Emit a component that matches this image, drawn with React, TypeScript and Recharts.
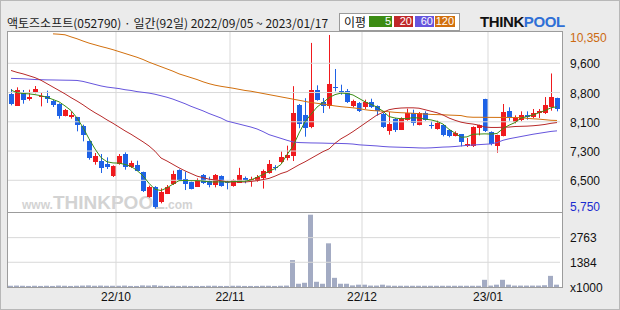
import { ComposedChart, Bar, Line, XAxis, YAxis, ReferenceLine } from "recharts";

const opens = [
  8786, 8477, 8813, 8654, 8839, 8707, 8724, 8610, 8521, 8212,
  8177, 8168, 7929, 7549, 7002, 7019, 6940, 6622, 6931, 7196,
  6843, 6913, 6723, 6066, 6330, 5906, 6154, 6401, 6772, 6534,
  6445, 6330, 6640, 6481, 6375, 6613, 6463, 6352, 6450, 6556,
  6463, 6490, 6560, 6697, 6843, 6988, 7076, 7148, 8490, 8225,
  7910, 8892, 8574, 8477, 8963, 8874, 8857, 8477, 8548, 8442,
  8574, 8459, 8256, 7814, 8124, 7841, 8106, 8283, 7973, 8283,
  7956, 7867, 7956, 7823, 7682, 7726, 7399, 7399, 7885, 8653,
  7779, 7391, 7682, 8327, 8035, 8080, 8221, 8177, 8283, 8283,
  8450, 8689,
];
const highs = [
  8919, 8963, 8892, 8901, 8998, 8813, 8874, 8636, 8540, 8389,
  8327, 8180, 7973, 7560, 7223, 7196, 7108, 6896, 7196, 7240,
  7019, 7019, 6730, 6360, 6345, 6286, 6375, 6755, 6790, 6728,
  6463, 6551, 6666, 6595, 6666, 6631, 6490, 6525, 6830, 6600,
  6595, 6640, 6785, 7037, 6900, 7266, 7417, 8994, 8521, 8675,
  10140, 9016, 8680, 10350, 9449, 9033, 8919, 8636, 8574, 8636,
  8662, 8486, 8283, 8309, 8150, 8168, 8397, 8371, 8309, 8327,
  8062, 8080, 7991, 7841, 7797, 7726, 7620, 7929, 7973, 8660,
  7797, 7708, 8521, 8433, 8221, 8327, 8327, 8389, 8389, 8706,
  9330, 8689,
];
const lows = [
  8486, 8477, 8530, 8610, 8804, 8459, 8548, 8442, 8132, 8194,
  8132, 7797, 7532, 7046, 6913, 6693, 6799, 6587, 6913, 6781,
  6825, 6755, 6189, 6040, 5750, 5889, 6136, 6375, 6490, 6242,
  6260, 6330, 6401, 6313, 6313, 6330, 6260, 6330, 6430, 6420,
  6330, 6463, 6280, 6675, 6763, 6962, 7028, 7010, 7880, 7655,
  7880, 8609, 8283, 8397, 8857, 8768, 8548, 8433, 8309, 8389,
  8415, 8212, 7885, 7708, 7779, 7832, 8080, 7947, 7956, 8080,
  7867, 7841, 7664, 7638, 7664, 7399, 7382, 7382, 7691, 7779,
  7426, 7231, 7664, 8080, 8009, 8062, 8106, 8150, 8150, 8256,
  8344, 8327,
];
const closes = [
  8521, 8901, 8636, 8715, 8927, 8733, 8636, 8503, 8212, 8371,
  8238, 7947, 7682, 7090, 7152, 6843, 6852, 6887, 7152, 6843,
  6958, 6760, 6225, 6330, 5800, 6180, 6330, 6666, 6507, 6401,
  6269, 6507, 6437, 6375, 6640, 6348, 6437, 6503, 6653, 6508,
  6525, 6595, 6755, 6931, 6816, 7125, 7165, 8287, 7995, 7871,
  8900, 8636, 8477, 9051, 8945, 8857, 8570, 8609, 8327, 8574,
  8442, 8327, 7903, 7991, 7841, 8150, 8283, 8018, 8283, 8106,
  7947, 8018, 7691, 7655, 7753, 7514, 7461, 7903, 7956, 7797,
  7461, 7691, 8309, 8150, 8150, 8221, 8177, 8274, 8327, 8486,
  8706, 8390,
];
// volume in thousands
const volumes = [
  70, 80, 70, 60, 70, 60, 70, 60, 80, 70,
  60, 70, 80, 90, 70, 80, 70, 70, 70, 80,
  60, 60, 90, 80, 100, 70, 60, 70, 60, 70,
  60, 60, 60, 70, 70, 60, 60, 70, 70, 60,
  60, 60, 70, 70, 60, 70, 80, 1507, 182, 237,
  4046, 293, 182, 2445, 513, 182, 182, 90, 130, 130,
  80, 80, 130, 80, 70, 70, 70, 70, 70, 70,
  70, 70, 70, 70, 70, 70, 70, 70, 70, 403,
  80, 130, 403, 130, 80, 80, 80, 80, 80, 100,
  624, 130,
];
const ma5 = [
  8890, 8820, 8800, 8790, 8770, 8740, 8700, 8640, 8580, 8470,
  8350, 8150, 7900, 7600, 7330, 7100, 6990, 6960, 6955, 6920,
  6870, 6760, 6620, 6420, 6260, 6230, 6300, 6400, 6490, 6495,
  6490, 6490, 6480, 6460, 6455, 6460, 6455, 6465, 6470, 6475,
  6510, 6580, 6650, 6740, 6810, 6920, 7180, 7400, 7750, 8050,
  8250, 8440, 8560, 8690, 8770, 8810, 8800, 8760, 8670, 8580,
  8510, 8440, 8330, 8190, 8150, 8130, 8135, 8160, 8150, 8120,
  8100, 8060, 7990, 7850, 7750, 7640, 7650, 7720, 7725, 7730,
  7725, 7740, 7870, 7960, 8030, 8150, 8190, 8230, 8290, 8350,
  8420, 8450,
];
const ma20 = [
  9410, 9360, 9320, 9270, 9220, 9150, 9060, 8970, 8880, 8790,
  8690, 8600, 8500, 8390, 8290, 8200, 8100, 8010, 7910, 7810,
  7720, 7620, 7520, 7410, 7270, 7090, 7010, 6920, 6830, 6750,
  6680, 6610, 6570, 6530, 6510, 6490, 6460, 6455, 6455, 6455,
  6470, 6490, 6520, 6550, 6610, 6680, 6730, 6820, 6910, 6990,
  7080, 7170, 7260, 7330, 7480, 7600, 7690, 7790, 7900, 8010,
  8120, 8230, 8300, 8370, 8400, 8415, 8420, 8420, 8410, 8370,
  8330, 8290, 8230, 8150, 8090, 8040, 8010, 7990, 7960, 7910,
  7900, 7900, 7905, 7910, 7925, 7930, 7935, 7945, 7960, 7980,
  8010, 8030,
];
const ma60 = [
  9200, 9195, 9190, 9180, 9170, 9165, 9160, 9158, 9155, 9152,
  9150, 9145, 9120, 9080, 9040, 9000, 8970, 8950, 8930, 8900,
  8880, 8850, 8830, 8810, 8780, 8740, 8700, 8650, 8590, 8530,
  8460, 8400, 8340, 8270, 8210, 8150, 8070, 8030, 7990, 7950,
  7910, 7860, 7790, 7710, 7660, 7610, 7560, 7515, 7500, 7495,
  7490, 7488, 7485, 7480, 7478, 7475, 7470, 7460, 7440, 7430,
  7420, 7410, 7395, 7385, 7380, 7375, 7370, 7365, 7358, 7355,
  7360, 7370, 7380, 7385, 7395, 7410, 7425, 7435, 7445, 7455,
  7465, 7500, 7560, 7600, 7630, 7660, 7690, 7720, 7745, 7770,
  7795, 7810,
];
const ma120 = [
  null, null, null, null, null, null, null, 10380, 10370, 10355,
  10300, 10250, 10190, 10135, 10090, 10045, 10005, 9960, 9910, 9860,
  9810, 9760, 9700, 9630, 9570, 9510, 9450, 9390, 9320, 9270,
  9220, 9170, 9110, 9060, 9020, 8990, 8965, 8940, 8910, 8880,
  8860, 8830, 8800, 8770, 8740, 8710, 8680, 8650, 8620, 8590,
  8560, 8540, 8520, 8495, 8470, 8450, 8435, 8420, 8400, 8370,
  8350, 8340, 8330, 8315, 8300, 8290, 8285, 8275, 8265, 8255,
  8245, 8240, 8235, 8228, 8222, 8215, 8180, 8170, 8170, 8168,
  8167, 8166, 8165, 8165, 8164, 8160, 8140, 8130, 8120, 8105,
  8090, 8085,
];

const monthStarts = [18, 37, 59, 80];
const monthLabels = ["22/10", "22/11", "22/12", "23/01"];
const priceTicks = [10350, 9600, 8825, 8050, 7275, 6500, 5750];
const priceTickLabels = ["10,350", "9,600", "8,800", "8,100", "7,300", "6,500", "5,750"];
const volTicks = [0, 1384, 2763];
const volTickLabels = ["x1000", "1384", "2763"];
const maLegend = [
  { label: "5", color: "#3c8c14" },
  { label: "20", color: "#c0282a" },
  { label: "60", color: "#6655dd" },
  { label: "120", color: "#d2700e" },
];

const RED = "#f01a1e";
const BLUE = "#1e62e6";
const GRID = "#d9d9d9";
const FONT = "'Liberation Sans', Arial, sans-serif";
const KFONT = "'Noto Sans CJK KR', 'Noto Sans', sans-serif";

const data = opens.map((o, i) => ({
  idx: i,
  open: o,
  high: highs[i],
  low: lows[i],
  close: closes[i],
  vol: volumes[i],
  ma5: ma5[i],
  ma20: ma20[i],
  ma60: ma60[i],
  ma120: ma120[i],
}));
const N = data.length;

const Candle = (props: any) => {
  const { x, y, width, height, payload } = props;
  const { open, close, high, low } = payload;
  const color = close >= open ? RED : BLUE;
  const top = Math.min(y, y + height);
  const span = Math.abs(height);
  const k = span / (high - low || 1);
  const yo = top + (high - open) * k;
  const yc = top + (high - close) * k;
  const cx = Math.round(x + width / 2);
  const bodyTop = Math.round(Math.min(yo, yc));
  const bodyH = Math.max(1, Math.round(Math.abs(yo - yc)));
  return (
    <g>
      <line x1={cx + 0.5} x2={cx + 0.5} y1={top} y2={top + span} stroke={color} strokeWidth={1} />
      <rect x={cx - 2} y={bodyTop} width={5} height={bodyH} fill={color} />
    </g>
  );
};

const PriceTick = (props: any) => {
  const { y, index } = props;
  const last = priceTicks.length - 1;
  const fill = index === 0 ? "#cc6a10" : index === last ? "#1a2bd0" : "#111";
  const dy = index === 0 ? 3 : index === last ? -2 : 0.7;
  return (
    <text x={570} y={y + dy + 4.5} fill={fill} fontSize={12} fontFamily={FONT}>
      {priceTickLabels[index]}
    </text>
  );
};

const VolTick = (props: any) => {
  const { y, index } = props;
  return (
    <text x={570} y={y + 4.5} fill="#111" fontSize={12} fontFamily={FONT}>
      {volTickLabels[index]}
    </text>
  );
};

const DateTick = (props: any) => {
  const { x, payload } = props;
  const k = monthStarts.indexOf(payload.value + 0.5);
  return (
    <text x={x} y={88} textAnchor="middle" fill="#111" fontSize={12} fontFamily={FONT}>
      {monthLabels[k]}
    </text>
  );
};

export default function App() {
  return (
    <div
      style={{
        position: "absolute",
        left: 0,
        top: 0,
        width: 620,
        height: 310,
        background: "#ebebeb",
        boxSizing: "border-box",
        border: "1px solid #b8b8b8",
        overflow: "hidden",
      }}
    >
      <div style={{ position: "absolute", left: 6, top: 14, fontFamily: KFONT, fontSize: 12, lineHeight: "16px", color: "#1a1a1a", whiteSpace: "nowrap" }}>
        액토즈소프트(052790) · 일간(92일) 2022/09/05 ~ 2023/01/17
      </div>
      <div style={{ position: "absolute", left: 338, top: 12, width: 121, height: 18, boxSizing: "border-box", background: "#fff", border: "1px solid #9a9a9a" }} />
      <div style={{ position: "absolute", left: 343, top: 13, fontFamily: KFONT, fontSize: 12, lineHeight: "16px", color: "#111" }}>이평</div>
      {maLegend.map((m, i) => (
        <div
          key={m.label}
          style={{
            position: "absolute",
            left: [368, 393, 414, 434][i],
            top: 15,
            width: [23, 19, 19, 20][i],
            height: 11,
            background: m.color,
            color: "#fff",
            fontFamily: FONT,
            fontSize: 11,
            lineHeight: "11px",
            textAlign: "right",
            paddingRight: 1,
            boxSizing: "border-box",
          }}
        >
          {m.label}
        </div>
      ))}
      <div style={{ position: "absolute", left: 479, top: 12, fontFamily: FONT, fontWeight: 900, fontSize: 15, lineHeight: "18px", letterSpacing: -0.4, whiteSpace: "nowrap" }}>
        <span style={{ color: "#111" }}>THINK</span>
        <span style={{ color: "#2f6fd6" }}>POOL</span>
      </div>

      <div style={{ position: "absolute", left: 6, top: 30, width: 556, height: 257, boxSizing: "border-box", background: "#fff", border: "1px solid #9c9c9c" }} />
      <div style={{ position: "absolute", left: 21, top: 192, fontFamily: FONT, color: "#d3d3d3", whiteSpace: "nowrap", lineHeight: "20px" }}>
        <span style={{ fontSize: 12, fontWeight: 700 }}>www.</span>
        <span style={{ fontSize: 19, fontWeight: 900 }}>THINKPOOL</span>
        <span style={{ fontSize: 12, fontWeight: 700 }}>.com</span>
      </div>

      <div style={{ position: "absolute", left: -1, top: -1 }}>
        <ComposedChart width={620} height={213} data={data} margin={{ top: 32, right: 0, bottom: 1, left: 8 }}>
          <XAxis dataKey="idx" type="number" domain={[-0.5, N - 0.5]} hide allowDataOverflow />
          <YAxis
            orientation="right"
            domain={[5660, 10429]}
            ticks={priceTicks}
            interval={0}
            width={60}
            axisLine={false}
            tickLine={false}
            allowDataOverflow
            tick={(p: any) => <PriceTick {...p} />}
          />
          {priceTicks.slice(1, -1).map((v) => (
            <ReferenceLine key={v} y={v} stroke={GRID} strokeWidth={1} />
          ))}
          {monthStarts.map((i) => (
            <ReferenceLine key={i} x={i - 0.5} stroke={GRID} strokeWidth={1} />
          ))}
          <Line dataKey="ma120" type="linear" stroke="#d2700e" strokeWidth={1} dot={false} isAnimationActive={false} />
          <Line dataKey="ma60" type="linear" stroke="#6655dd" strokeWidth={1} dot={false} isAnimationActive={false} />
          <Line dataKey="ma20" type="linear" stroke="#b82a2a" strokeWidth={1} dot={false} isAnimationActive={false} />
          <Line dataKey="ma5" type="linear" stroke="#3c8c14" strokeWidth={1} dot={false} isAnimationActive={false} />
          <Bar
            dataKey={(d: any) => [d.low, d.high]}
            barSize={5}
            shape={(p: any) => <Candle {...p} />}
            isAnimationActive={false}
          />
        </ComposedChart>
      </div>
      <div style={{ position: "absolute", left: 6, top: 211, width: 556, height: 1, background: "#9c9c9c" }} />

      <div style={{ position: "absolute", left: -1, top: 212 }}>
        <ComposedChart width={620} height={98} data={data} margin={{ top: 0, right: 0, bottom: 0, left: 8 }}>
          <XAxis
            dataKey="idx"
            type="number"
            domain={[-0.5, N - 0.5]}
            ticks={monthStarts.map((i) => i - 0.5)}
            interval={0}
            height={24}
            axisLine={false}
            tickLine={false}
            allowDataOverflow
            tick={(p: any) => <DateTick {...p} />}
          />
          <YAxis
            orientation="right"
            domain={[0, 4142]}
            ticks={volTicks}
            interval={0}
            width={60}
            axisLine={false}
            tickLine={false}
            allowDataOverflow
            tick={(p: any) => <VolTick {...p} />}
          />
          {volTicks.slice(1).map((v) => (
            <ReferenceLine key={v} y={v} stroke={GRID} strokeWidth={1} />
          ))}
          {monthStarts.map((i) => (
            <ReferenceLine key={i} x={i - 0.5} stroke={GRID} strokeWidth={1} />
          ))}
          <Bar dataKey="vol" barSize={5} fill="#a3abc3" isAnimationActive={false} />
        </ComposedChart>
      </div>
    </div>
  );
}
